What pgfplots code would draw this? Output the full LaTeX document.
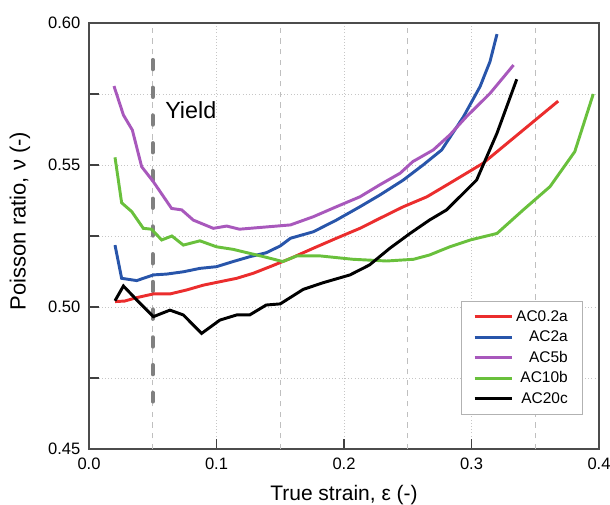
\documentclass[border=0pt]{standalone}
\usepackage{pgfplots}
\pgfplotsset{compat=1.18}
\usepackage{fontspec}
\setmainfont{Liberation Sans}
\definecolor{cred}{RGB}{235,45,45}
\definecolor{cblue}{RGB}{40,85,170}
\definecolor{cpurple}{RGB}{168,88,188}
\definecolor{cgreen}{RGB}{105,192,60}
\definecolor{cyield}{RGB}{128,128,128}
\begin{document}
\begin{tikzpicture}
\useasboundingbox (-66.75pt,-41.25pt) rectangle (390.75pt,336.75pt);
\begin{axis}[
  at={(0pt,0pt)}, anchor=south west,
  scale only axis, width=382.5pt, height=319.5pt,
  xmin=0, xmax=0.4, ymin=0.45, ymax=0.6,
  xtick={0,0.1,0.2,0.3,0.4},
  xticklabels={0.0,0.1,0.2,0.3,0.4},
  ytick={0.45,0.5,0.55,0.6},
  yticklabels={0.45,0.50,0.55,0.60},
  minor ytick={0.475,0.525,0.575},
  tick pos=left, tick align=inside,
  major tick length=7.5pt, minor tick length=7.5pt,
  every tick/.style={black!75, line width=0.9pt},
  /pgf/number format/assume math mode=true,
  tick label style={font=\fontsize{12.4}{14}\selectfont},
  yticklabel style={xshift=-3pt},
  xticklabel style={yshift=-3pt},
  axis line style={draw=black!70, line width=1.1pt},
  xmajorgrids, ymajorgrids, yminorgrids,
  major grid style={dotted, gray!45, line width=0.7pt},
  minor grid style={dotted, gray!45, line width=0.7pt},
  extra x ticks={0.05,0.15,0.25,0.35},
  extra x tick labels={,,,},
  extra x tick style={major tick length=0pt, major grid style={dash pattern=on 4pt off 4pt, gray!50, line width=0.9pt}},
  xlabel={True strain, ε (-)},
  xlabel style={font=\fontsize{15.75}{18}\selectfont, at={(axis description cs:0.5,-0.108)}, anchor=center},
  ylabel={Poisson ratio, ν (-)},
  ylabel style={font=\fontsize{16.5}{18}\selectfont, at={(axis description cs:-0.1353,0.535)}, anchor=center},
  legend style={at={(0.9686,0.0798)}, anchor=south east, draw=gray!60, line width=0.8pt,
    font=\fontsize{11.6}{13}\selectfont, row sep=1.6pt, inner xsep=9pt, inner ysep=5pt},
  legend cell align=right,
  legend image code/.code={\draw[#1] (0pt,0pt) -- (28pt,0pt);},
]
\addplot[cyield, line width=3pt, line cap=round, dash pattern=on 7pt off 13.8pt, forget plot]
  coordinates {(0.05,0.587) (0.05,0.4667)};
\node[anchor=west, font=\fontsize{17.5}{20}\selectfont, inner sep=0pt] at (axis cs:0.0596,0.5694) {Yield};

\addplot[cred, line width=2.2pt] coordinates {
(0.0204,0.5019) (0.028,0.5021) (0.0374,0.5033) (0.0505,0.5046) (0.0635,0.5046) (0.0766,0.5060)
(0.0897,0.5077) (0.1027,0.5089) (0.1158,0.5101) (0.129,0.5119) (0.142,0.5142) (0.158,0.5171)
(0.176,0.5207) (0.194,0.5242) (0.2125,0.5277) (0.228,0.5312) (0.2465,0.5353) (0.265,0.5388)
(0.283,0.5436) (0.309,0.5506) (0.368,0.5725)};
\addlegendentry{AC0.2a}

\addplot[cblue, line width=2.2pt] coordinates {
(0.0204,0.5218) (0.0256,0.5101) (0.0374,0.5093) (0.0505,0.5113) (0.061,0.5116) (0.074,0.5124)
(0.087,0.5136) (0.100,0.5142) (0.113,0.5160) (0.126,0.5177) (0.139,0.5191) (0.150,0.5215)
(0.158,0.5242) (0.176,0.5265) (0.194,0.5306) (0.2125,0.5353) (0.228,0.5394) (0.2465,0.5447)
(0.262,0.5500) (0.2766,0.5553) (0.2937,0.5670) (0.3067,0.5776) (0.3145,0.5864) (0.320,0.5961)};
\addlegendentry{AC2a}

\addplot[cpurple, line width=2.2pt] coordinates {
(0.0196,0.5778) (0.027,0.5676) (0.034,0.5623) (0.0413,0.5494) (0.0505,0.5441) (0.0648,0.5347)
(0.0727,0.5342) (0.0818,0.5306) (0.0975,0.5277) (0.108,0.5285) (0.118,0.5274) (0.142,0.5283)
(0.158,0.5289) (0.176,0.5318) (0.194,0.5353) (0.2125,0.5388) (0.228,0.5430) (0.244,0.5471)
(0.254,0.5512) (0.270,0.5553) (0.283,0.5606) (0.296,0.5670) (0.3145,0.5752) (0.333,0.5852)};
\addlegendentry{AC5b}

\addplot[cgreen, line width=2.2pt] coordinates {
(0.0204,0.5527) (0.0256,0.5367) (0.0335,0.5336) (0.0426,0.5277) (0.049,0.5274) (0.057,0.5236)
(0.065,0.5250) (0.074,0.5218) (0.087,0.5233) (0.100,0.5212) (0.113,0.5203) (0.126,0.5189)
(0.139,0.5175) (0.152,0.5160) (0.163,0.5180) (0.181,0.5180) (0.207,0.5168) (0.2335,0.5162)
(0.2545,0.5168) (0.267,0.5183) (0.283,0.5212) (0.299,0.5236) (0.320,0.5259) (0.3406,0.5342)
(0.3616,0.5424) (0.381,0.5547) (0.3955,0.5750)};
\addlegendentry{AC10b}

\addplot[black, line width=2.2pt] coordinates {
(0.0204,0.5022) (0.027,0.5074) (0.0374,0.5025) (0.0505,0.4966) (0.0635,0.4989) (0.074,0.4972)
(0.0883,0.4907) (0.1027,0.4954) (0.1158,0.4972) (0.126,0.4972) (0.139,0.5007) (0.150,0.5011)
(0.168,0.5062) (0.184,0.5086) (0.2047,0.5113) (0.220,0.5148) (0.236,0.5207) (0.2518,0.5259)
(0.267,0.5306) (0.2805,0.5342) (0.304,0.5447) (0.320,0.5612) (0.3355,0.5802)};
\addlegendentry{AC20c}
\end{axis}
\end{tikzpicture}
\end{document}
